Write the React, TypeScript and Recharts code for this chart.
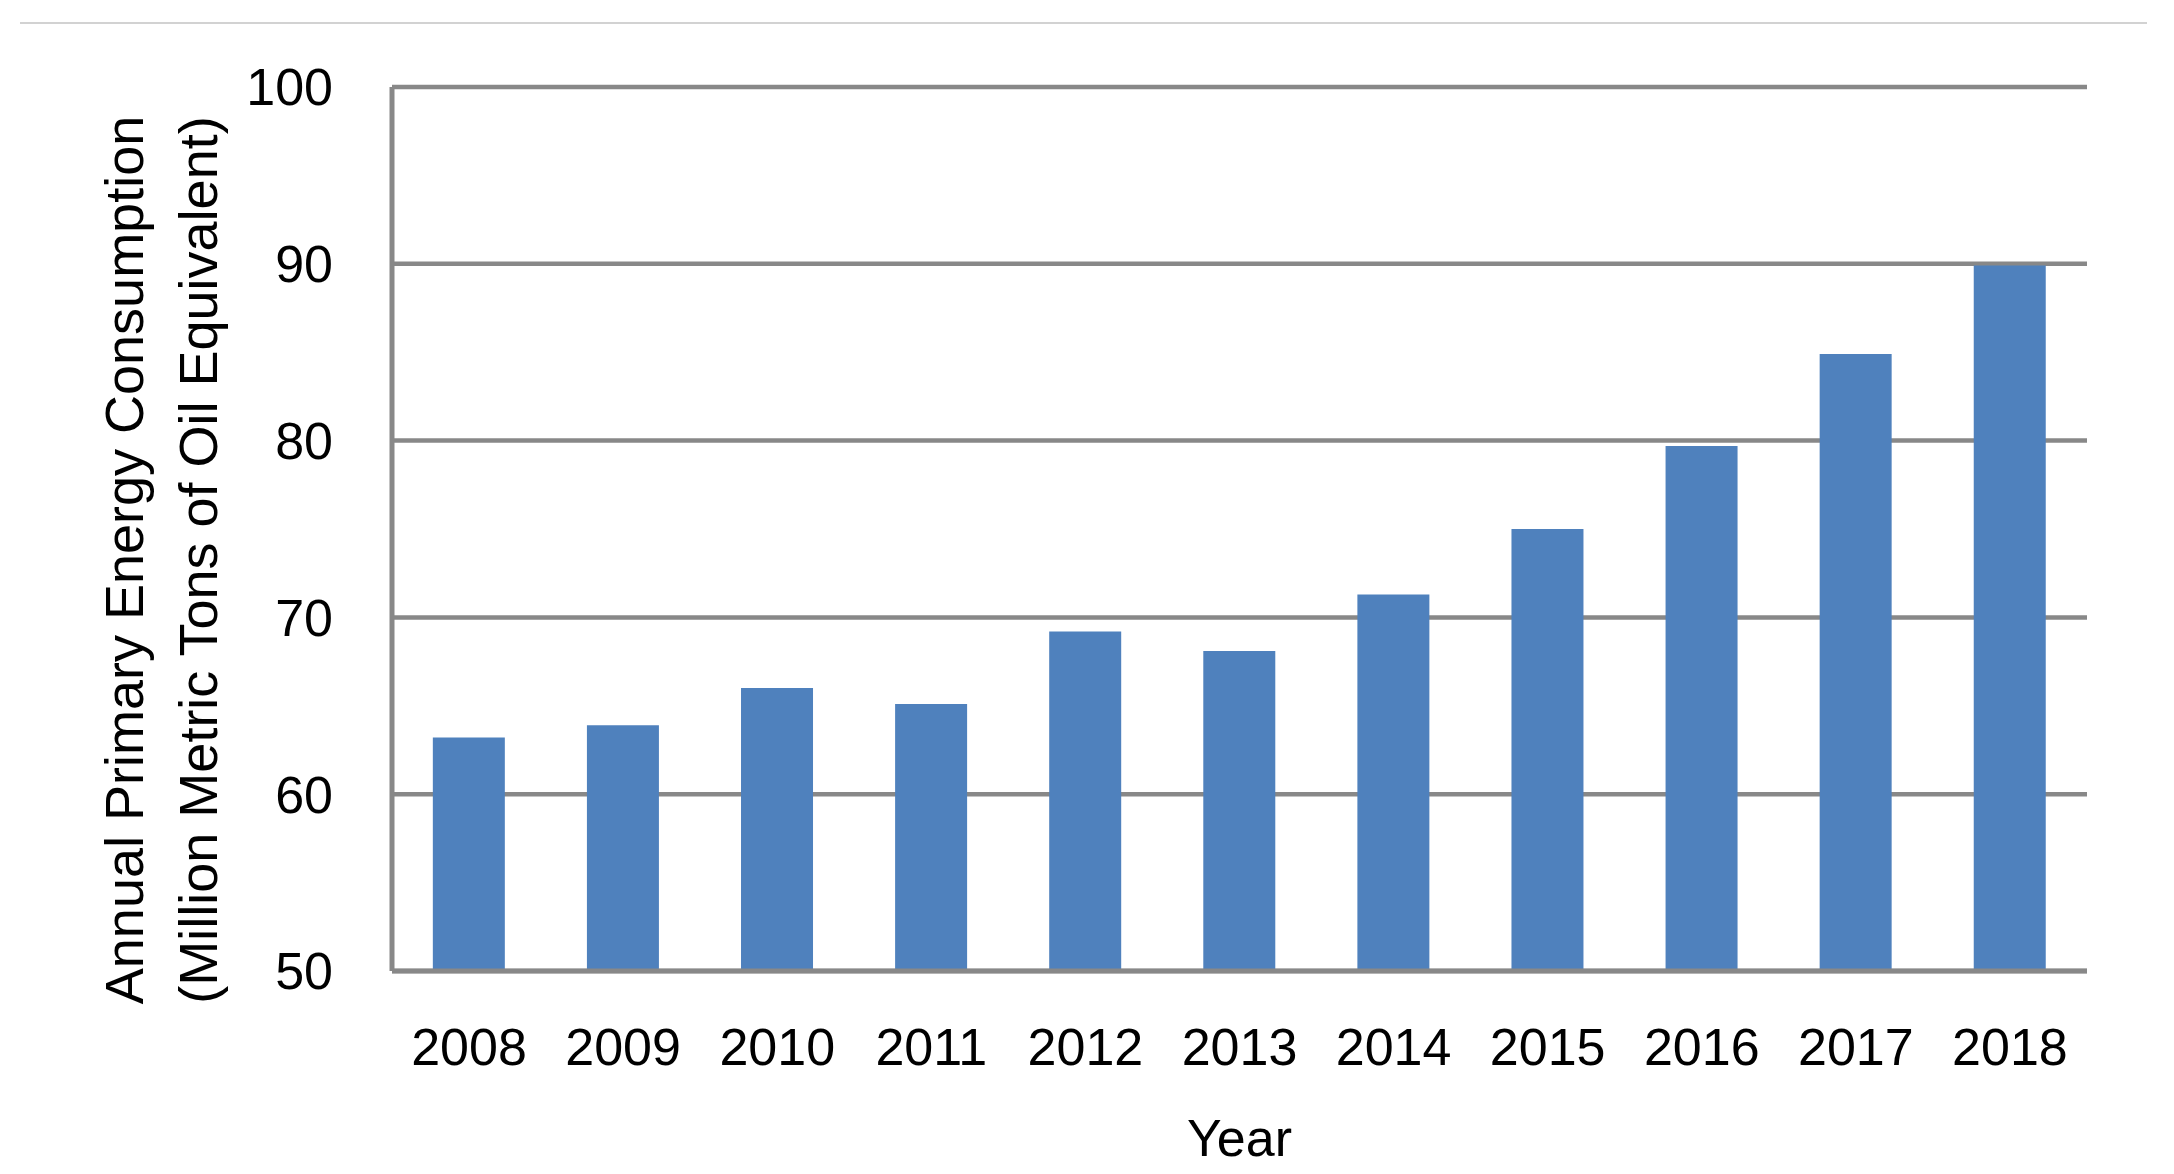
import React from 'react';
import { BarChart, Bar, XAxis, YAxis, CartesianGrid, Label } from 'recharts';

const years = ['2008', '2009', '2010', '2011', '2012', '2013', '2014', '2015', '2016', '2017', '2018'];
const consumption = [63.2, 63.9, 66.0, 65.1, 69.2, 68.1, 71.3, 75.0, 79.7, 84.9, 89.9];
const yTicks = [50, 60, 70, 80, 90, 100];
const yTitleLines = ['Annual Primary Energy Consumption', '(Million Metric Tons of Oil Equivalent)'];
const xTitle = 'Year';

const data = years.map((year, i) => ({ year, value: consumption[i] }));

const FONT = '"Liberation Sans", Arial, sans-serif';
const GRID = '#888888';

const YTitle = (props: any) => {
  const vb = props.viewBox || { x: 0, y: 0, width: 0, height: 0 };
  const cy = vb.y + vb.height / 2 + 31;
  const xs = [vb.x + 143, vb.x + 217];
  return (
    <g>
      {yTitleLines.map((t, i) => (
        <text
          key={i}
          x={xs[i]}
          y={cy}
          transform={`rotate(-90, ${xs[i]}, ${cy})`}
          textAnchor="middle"
          fontSize={54}
          fontFamily={FONT}
          fill="#000"
        >
          {t}
        </text>
      ))}
    </g>
  );
};

export default function App() {
  return (
    <div style={{ position: 'absolute', left: 0, top: 0, width: 2174, height: 1174, background: '#fff' }}>
      <div style={{ position: 'absolute', left: 20, top: 22, width: 2127, height: 2, background: '#d2d2d2' }} />
      <BarChart
        width={2174}
        height={1174}
        data={data}
        margin={{ top: 87, right: 87, bottom: 0, left: 0 }}
        barCategoryGap="26.5%"
      >
        <CartesianGrid vertical={false} stroke={GRID} strokeWidth={4.5} />
        <XAxis
          dataKey="year"
          height={203}
          tickLine={false}
          tickSize={0}
          tickMargin={57}
          axisLine={{ stroke: GRID, strokeWidth: 5 }}
          tick={{ fontSize: 52, fill: '#000', fontFamily: FONT }}
          interval={0}
        >
          <Label
            value={xTitle}
            position="insideBottom"
            offset={18}
            style={{ fontSize: 52, fill: '#000', fontFamily: FONT }}
          />
        </XAxis>
        <YAxis
          width={392}
          domain={[50, 100]}
          ticks={yTicks}
          tickLine={false}
          tickSize={0}
          tickMargin={59}
          axisLine={{ stroke: GRID, strokeWidth: 5 }}
          tick={{ fontSize: 52, fill: '#000', fontFamily: FONT }}
          interval={0}
        >
          <Label content={YTitle} />
        </YAxis>
        <Bar dataKey="value" fill="#4f81bd" isAnimationActive={false} />
      </BarChart>
    </div>
  );
}
